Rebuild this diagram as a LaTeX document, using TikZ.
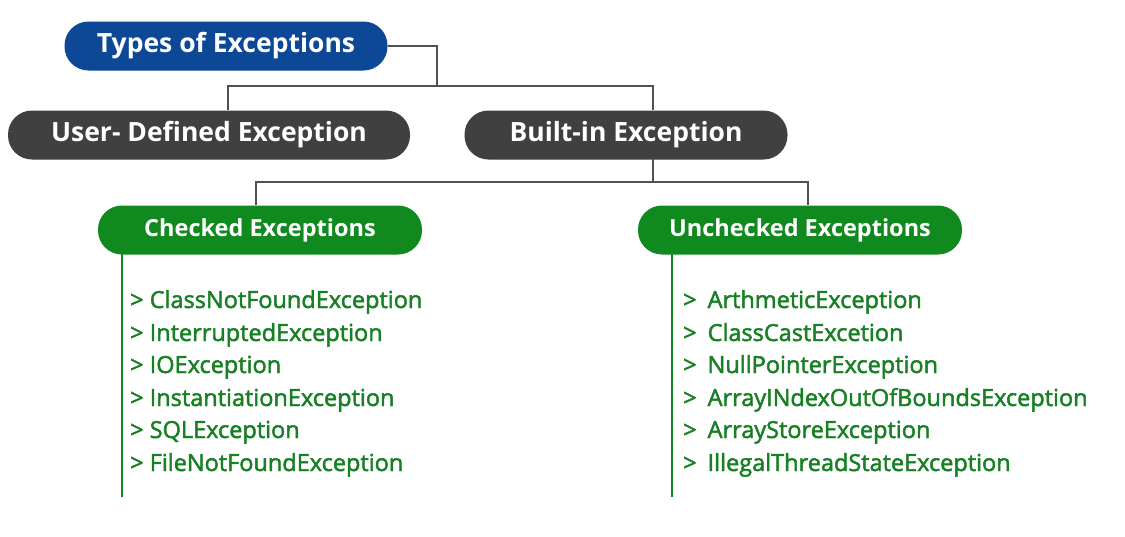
\documentclass[tikz,border=0pt]{standalone}
\usepackage{fontspec}
\setmainfont{Open Sans}
\newfontfamily\itemfont[FakeBold=2]{Open Sans}
\definecolor{tblue}{RGB}{12,72,150}
\definecolor{tgrey}{RGB}{64,64,64}
\definecolor{tgreen}{RGB}{16,138,30}
\definecolor{ttext}{RGB}{24,128,36}
\definecolor{tline}{RGB}{80,80,80}
\tikzset{
  pill/.style={rectangle, rounded corners=24pt, minimum height=49pt, text=white, font=\bfseries\fontsize{26.5}{28}\selectfont, inner sep=0pt},
  gpill/.style={pill, fill=tgreen, font=\bfseries\fontsize{23.5}{26}\selectfont},
  conn/.style={draw=tline, line width=1.6pt},
  gline/.style={draw=tgreen, line width=2.2pt},
  item/.style={anchor=base west, text=ttext, inner sep=0pt, font=\itemfont\fontsize{23.5}{26}\selectfont}
}
\begin{document}
\begin{tikzpicture}[x=1pt,y=-1pt]
\useasboundingbox[fill=white] (0,0) rectangle (1125,536);
\node[pill, fill=tblue, minimum width=323pt, font=\bfseries\fontsize{26.5}{30}\selectfont] (types) at (226,46) {Types of Exceptions};
\node[pill, fill=tgrey, minimum width=402pt] (user) at (209,135) {User- Defined Exception};
\node[pill, fill=tgrey, minimum width=323pt] (built) at (626,135) {Built-in Exception};
\node[gpill, minimum width=324pt] (checked) at (260,230) {Checked Exceptions};
\node[gpill, minimum width=324pt] (unchecked) at (800,230) {Unchecked Exceptions};
\coordinate (j1) at (437,86);
\coordinate (uin) at (228,110);
\coordinate (bin) at (653,110);
\coordinate (bout) at (653,158);
\coordinate (j2) at (653,182);
\coordinate (cin) at (256,205);
\coordinate (ucin) at (808,205);
\coordinate (cs) at (122,253);
\coordinate (ce) at (122,497);
\coordinate (us) at (672,253);
\coordinate (ue) at (672,497);
\draw[conn] (types.east) -| (j1);
\draw[conn] (uin) |- (j1) -| (bin);
\draw[conn] (bout) -- (j2);
\draw[conn] (cin) |- (j2) -| (ucin);
\draw[gline] (cs) -- (ce);
\draw[gline] (us) -- (ue);
\node[item] (c1) at (130,308) {> ClassNotFoundException};
\node[item] (c2) at (130,341) {> InterruptedException};
\node[item] (c3) at (130,373) {> IOException};
\node[item] (c4) at (130,406) {> InstantiationException};
\node[item] (c5) at (130,438) {> SQLException};
\node[item] (c6) at (130,471) {> FileNotFoundException};
\node[item] (u1) at (683,308) {>\hspace{11pt}ArthmeticException};
\node[item] (u2) at (683,341) {>\hspace{11pt}ClassCastExcetion};
\node[item] (u3) at (683,373) {>\hspace{11pt}NullPointerException};
\node[item] (u4) at (683,406) {>\hspace{11pt}ArrayINdexOutOfBoundsException};
\node[item] (u5) at (683,438) {>\hspace{11pt}ArrayStoreException};
\node[item] (u6) at (683,471) {>\hspace{11pt}IllegalThreadStateException};
\end{tikzpicture}
\end{document}
